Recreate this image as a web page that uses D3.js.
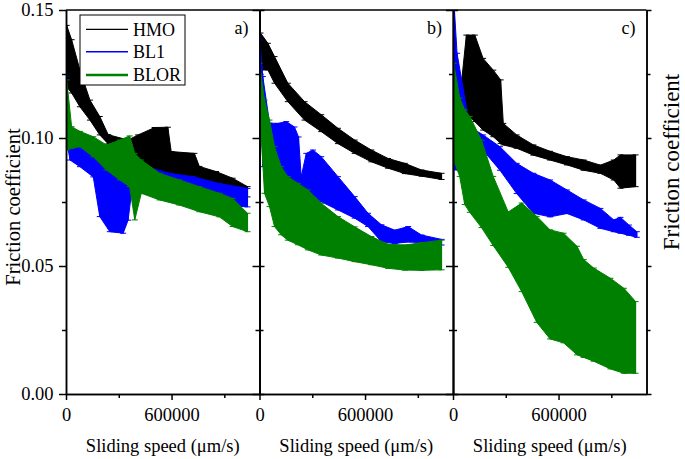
<!DOCTYPE html>
<html><head><meta charset="utf-8">
<script src="https://cdn.jsdelivr.net/npm/d3@7"></script>
<style>
body{margin:0;background:#fff}
</style>
</head><body>
<svg id="chart" width="685" height="459"></svg>
<script>
// ---------------- data ----------------
const panelLabels = ["a)", "b)", "c)"];
const seriesNames = ["HMO", "BL1", "BLOR"];
const yMajorTicks = [0, 0.05, 0.10, 0.15];
const yMinorTicks = [0.025, 0.075, 0.125];
const xMajorTicks = [0, 600000];
const xMinorTicks = [300000, 900000];
const xTitle = "Sliding speed (\u03bcm/s)";
const yTitle = "Friction coefficient";

// each point: [sliding speed (µm/s), mean friction coefficient, error]
const hmoA = [[3800,0.132,0.012],[32000,0.128,0.0104],[79000,0.1194,0.0072],[136000,0.1109,0.0039],[192000,0.1048,0.0036],[240000,0.0995,0.0018],[353000,0.0953,0.0039],[410000,0.095,0.0062],[504000,0.0958,0.0083],[579000,0.0952,0.009],[598000,0.0898,0.0049],[730000,0.0888,0.0052],[758000,0.0856,0.0033],[853000,0.0839,0.003],[947000,0.082,0.0023],[1032000,0.079,0.002]];
const bl1A = [[1900,0.112,0.012],[22600,0.0973,0.0059],[79000,0.094,0.0052],[155000,0.0907,0.0059],[192000,0.0817,0.0124],[249000,0.0767,0.0133],[325000,0.0752,0.0124],[353000,0.0777,0.0098],[372000,0.0849,0.0065],[457000,0.0836,0.0052],[589000,0.0816,0.0046],[721000,0.0803,0.0046],[872000,0.078,0.0042],[1032000,0.0767,0.0036]];
const blorA = [[3800,0.109,0.0137],[32000,0.1002,0.0042],[79000,0.0996,0.003],[155000,0.0966,0.0039],[230000,0.0924,0.0049],[306000,0.0914,0.0078],[362000,0.0909,0.0099],[391000,0.081,0.013],[428000,0.0849,0.0065],[532000,0.081,0.0052],[645000,0.0787,0.0049],[758000,0.0761,0.0049],[872000,0.0738,0.0046],[947000,0.0709,0.0055],[1032000,0.067,0.0036]];

const hmoB = [[5700,0.1338,0.0072],[47500,0.1318,0.0052],[85500,0.1266,0.0052],[161000,0.1178,0.0036],[256000,0.1106,0.0036],[351000,0.1058,0.0033],[446000,0.1008,0.003],[541000,0.0966,0.0026],[636000,0.093,0.0023],[731000,0.0901,0.0019],[826000,0.0881,0.002],[921000,0.0863,0.0012],[1035000,0.085,0.0012]];
const bl1B = [[1900,0.1331,0.0052],[19000,0.1064,0.0176],[57000,0.096,0.0098],[104000,0.0953,0.0104],[152000,0.095,0.0114],[199000,0.0933,0.011],[222000,0.0907,0.0097],[237000,0.0823,0.0026],[266000,0.0862,0.0078],[304000,0.0865,0.0088],[351000,0.0839,0.0088],[446000,0.0784,0.0065],[541000,0.0729,0.0042],[617000,0.068,0.0026],[693000,0.0628,0.0033],[769000,0.0614,0.0026],[845000,0.0624,0.003],[921000,0.0606,0.0015],[1035000,0.0593,0.0011]];
const blorB = [[0,0.1207,0.0085],[28500,0.0966,0.0182],[57000,0.0901,0.0169],[85500,0.081,0.0156],[123000,0.0755,0.0133],[161000,0.0725,0.0124],[218000,0.0703,0.012],[275000,0.068,0.0117],[351000,0.0644,0.0101],[446000,0.0612,0.0081],[541000,0.0585,0.0068],[636000,0.056,0.0055],[731000,0.0538,0.0047],[826000,0.0533,0.0049],[921000,0.0537,0.0054],[1035000,0.0543,0.0058]];

const hmoC = [[38000,0.1135,0.0013],[76000,0.1249,0.0153],[124000,0.1233,0.0169],[171000,0.1171,0.014],[229000,0.1135,0.013],[271000,0.1103,0.0124],[286000,0.1015,0.0042],[362000,0.0986,0.0026],[457000,0.0953,0.002],[552000,0.0931,0.0017],[648000,0.0911,0.0016],[743000,0.0894,0.002],[838000,0.0878,0.0016],[914000,0.0875,0.0039],[952000,0.0869,0.0065],[1038000,0.0872,0.0062]];
const bl1C = [[3800,0.1215,0.0335],[23000,0.1103,0.0228],[95000,0.0992,0.0052],[171000,0.0982,0.003],[267000,0.092,0.0046],[362000,0.0842,0.0059],[457000,0.0784,0.0078],[552000,0.0764,0.0072],[648000,0.0751,0.0046],[743000,0.0719,0.0039],[838000,0.0686,0.0039],[914000,0.0657,0.0023],[952000,0.0659,0.0031],[1000000,0.064,0.002],[1045000,0.0623,0.0011]];
const blorC = [[3800,0.1103,0.0189],[38100,0.1003,0.0153],[66700,0.0925,0.0185],[95300,0.0897,0.0187],[162000,0.0821,0.0171],[228600,0.0715,0.0135],[314000,0.0603,0.0108],[390500,0.0573,0.0173],[476000,0.0487,0.0207],[552000,0.0428,0.0213],[628600,0.0414,0.0214],[705000,0.0365,0.0212],[743000,0.0334,0.0191],[800000,0.031,0.0182],[895000,0.0275,0.0177],[971500,0.0247,0.0166],[1038000,0.0221,0.014]];

const panelData = [[hmoA, bl1A, blorA], [hmoB, bl1B, blorB], [hmoC, bl1C, blorC]];

// ---------------- layout / style ----------------
const colors = ["#000000", "#0000ff", "#008000"];
const FONT = '"Liberation Serif"';
const mLeft = 66, mTop = 10, mBottom = 394, mRight = 646.5;
const pw = (mRight - mLeft) / 3;
const xMax = 1100000;
const svg = d3.select("#chart");

const y = d3.scaleLinear().domain([0, 0.15]).range([mBottom, mTop]);

panelData.forEach((series, p) => {
  const x0 = mLeft + p * pw;
  const x = d3.scaleLinear().domain([0, xMax]).range([x0, x0 + pw]);
  const g = svg.append("g");
  const clipId = "clip" + p;
  svg.append("clipPath").attr("id", clipId).append("rect")
    .attr("x", x0).attr("y", mTop).attr("width", pw).attr("height", mBottom - mTop);
  const plot = g.append("g").attr("clip-path", `url(#${clipId})`);

  const area = d3.area()
    .x(d => x(d[0]))
    .y0(d => y(d[1] - d[2]))
    .y1(d => y(d[1] + d[2]));

  series.forEach((pts, s) => {
    const c = colors[s];
    const sg = plot.append("g");
    sg.append("path").datum(pts).attr("d", area)
      .attr("fill", c).attr("stroke", c).attr("stroke-width", 1);
    const eb = sg.selectAll(".eb").data(pts).enter().append("g");
    eb.append("line").attr("x1", d => x(d[0])).attr("x2", d => x(d[0]))
      .attr("y1", d => y(d[1] - d[2])).attr("y2", d => y(d[1] + d[2]))
      .attr("stroke", c).attr("stroke-width", 1);
    eb.append("line").attr("x1", d => x(d[0]) - 3).attr("x2", d => x(d[0]) + 3)
      .attr("y1", d => y(d[1] + d[2])).attr("y2", d => y(d[1] + d[2]))
      .attr("stroke", c).attr("stroke-width", 1);
    eb.append("line").attr("x1", d => x(d[0]) - 3).attr("x2", d => x(d[0]) + 3)
      .attr("y1", d => y(d[1] - d[2])).attr("y2", d => y(d[1] - d[2]))
      .attr("stroke", c).attr("stroke-width", 1);
    sg.append("path").datum(pts)
      .attr("d", d3.line().x(d => x(d[0])).y(d => y(d[1])))
      .attr("fill", "none").attr("stroke", c).attr("stroke-width", 1);
  });

  g.append("g").attr("transform", `translate(0,${mBottom})`)
    .call(d3.axisBottom(x).tickValues(xMajorTicks).tickSize(6).tickSizeOuter(0).tickPadding(8).tickFormat(d3.format("d")));
  g.append("g").attr("transform", `translate(0,${mBottom})`)
    .call(d3.axisBottom(x).tickValues(xMinorTicks).tickSize(4).tickSizeOuter(0).tickFormat(""));
  g.append("g").attr("transform", `translate(${x0},0)`)
    .call(d3.axisLeft(y).tickValues(yMajorTicks).tickSize(7).tickSizeOuter(0).tickPadding(5.5)
      .tickFormat(p === 0 ? d3.format(".2f") : ""));
  g.append("g").attr("transform", `translate(${x0},0)`)
    .call(d3.axisLeft(y).tickValues(yMinorTicks).tickSize(4).tickSizeOuter(0).tickFormat(""));
  g.append("g").attr("transform", `translate(${x0 + pw},0)`)
    .call(d3.axisRight(y).tickValues(yMajorTicks).tickSize(5).tickSizeOuter(0).tickFormat(""));
  g.append("g").attr("transform", `translate(${x0 + pw},0)`)
    .call(d3.axisRight(y).tickValues(yMinorTicks).tickSize(4).tickSizeOuter(0).tickFormat(""));
  g.append("line").attr("x1", x0).attr("x2", x0 + pw).attr("y1", mTop).attr("y2", mTop)
    .attr("stroke", "#000").attr("stroke-width", 1.5);

  g.append("text").attr("x", x0 + pw - 11).attr("y", 34).attr("text-anchor", "end")
    .attr("font-size", 18).text(panelLabels[p]);
  g.append("text").attr("x", x0 + pw / 2).attr("y", 452).attr("text-anchor", "middle")
    .attr("font-size", 18.5).text(xTitle);
});

svg.selectAll(".domain").attr("stroke", "#000").attr("stroke-width", 1.5);
svg.selectAll(".tick line").attr("stroke", "#000").attr("stroke-width", 1.5);
svg.selectAll(".tick text").attr("font-size", 18.5);

svg.append("text").attr("transform", "translate(20,207) rotate(-90)")
  .attr("text-anchor", "middle").attr("font-size", 20.5).text(yTitle);
svg.append("text").attr("transform", "translate(679,162) rotate(-90)")
  .attr("text-anchor", "middle").attr("font-size", 23).text(yTitle);

const lg = svg.append("g");
lg.append("rect").attr("x", 80).attr("y", 15).attr("width", 105).attr("height", 70)
  .attr("fill", "#fff").attr("stroke", "#000").attr("stroke-width", 1);
const legendY = [29.3, 51.7, 75];
const legendW = [1.2, 1.5, 2.5];
seriesNames.forEach((n, i) => {
  lg.append("line").attr("x1", 86).attr("x2", 128).attr("y1", legendY[i]).attr("y2", legendY[i])
    .attr("stroke", colors[i]).attr("stroke-width", legendW[i]);
  lg.append("text").attr("x", 133).attr("y", legendY[i] + 6.3).attr("font-size", 18).text(n);
});

svg.selectAll("g").attr("font-family", null);
svg.selectAll("text").attr("font-family", "Liberation Serif").style("font-family", FONT).style("fill", "#000");
</script>
</body></html>
